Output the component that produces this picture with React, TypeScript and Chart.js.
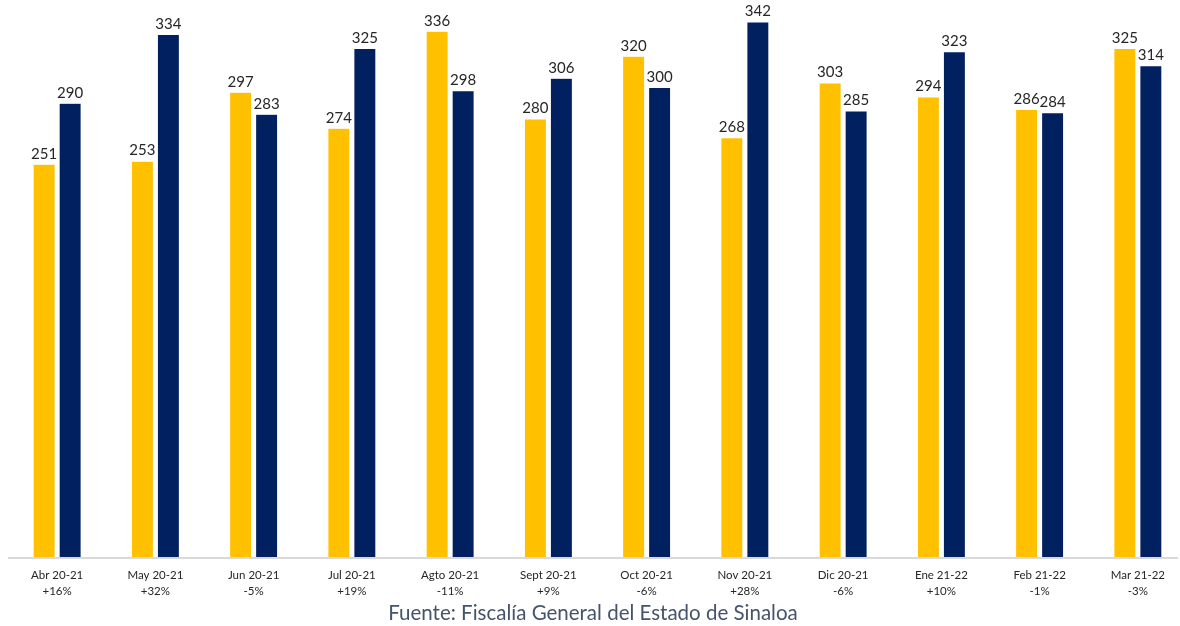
import React, { useEffect, useRef } from "react";
import { Chart, registerables } from "chart.js";

Chart.register(...registerables);

const months = ["Abr 20-21", "May 20-21", "Jun 20-21", "Jul 20-21", "Agto 20-21", "Sept 20-21", "Oct 20-21", "Nov 20-21", "Dic 20-21", "Ene 21-22", "Feb 21-22", "Mar 21-22"];
const changes = ["+16%", "+32%", "-5%", "+19%", "-11%", "+9%", "-6%", "+28%", "-6%", "+10%", "-1%", "-3%"];
const seriesA = [251, 253, 297, 274, 336, 280, 320, 268, 303, 294, 286, 325];
const seriesB = [290, 334, 283, 325, 298, 306, 300, 342, 285, 323, 284, 314];
const source = "Fuente: Fiscalía General del Estado de Sinaloa";

const FONT = "Lato, 'Open Sans', sans-serif";

const labelPlugin = {
  id: "labels",
  afterDatasetsDraw(chart: any) {
    const ctx = chart.ctx;
    ctx.save();
    ctx.font = `15px ${FONT}`;
    ctx.fillStyle = "#262626";
    ctx.textAlign = "center";
    ctx.textBaseline = "bottom";
    chart.data.datasets.forEach((ds: any, i: number) => {
      const meta = chart.getDatasetMeta(i);
      meta.data.forEach((bar: any, j: number) => {
        ctx.fillText(String(ds.data[j]), bar.x, bar.y - 3);
      });
    });
    ctx.restore();
  },
  afterDraw(chart: any) {
    const ctx = chart.ctx;
    const a = chart.chartArea;
    ctx.save();
    ctx.strokeStyle = "#d9d9d9";
    ctx.lineWidth = 2;
    ctx.beginPath();
    ctx.moveTo(a.left, a.bottom + 1);
    ctx.lineTo(1178, a.bottom + 1);
    ctx.stroke();
    ctx.font = `20.5px ${FONT}`;
    ctx.fillStyle = "#44546a";
    ctx.textAlign = "center";
    ctx.textBaseline = "middle";
    ctx.fillText(source, 593, 613);
    ctx.restore();
  },
};

export default function App() {
  const ref = useRef<HTMLCanvasElement>(null);
  useEffect(() => {
    if (!ref.current) return;
    const chart = new Chart(ref.current, {
      type: "bar",
      data: {
        labels: months.map((m, i) => [m, changes[i]]),
        datasets: [
          { data: seriesA, backgroundColor: "#FFC000", borderColor: "rgba(255,255,255,0.6)", borderWidth: 0.5 },
          { data: seriesB, backgroundColor: "#002060", borderColor: "rgba(255,255,255,0.6)", borderWidth: 0.5 },
        ],
      },
      plugins: [labelPlugin],
      options: {
        animation: false,
        responsive: false,
        maintainAspectRatio: false,
        layout: { padding: { left: 8, right: 2, top: 0, bottom: 0 } },
        datasets: { bar: { categoryPercentage: 0.529, barPercentage: 0.846 } },
        plugins: { legend: { display: false }, tooltip: { enabled: false }, title: { display: false } },
        scales: {
          x: {
            grid: { display: false, drawTicks: false },
            border: { display: false },
            ticks: { color: "#262626", font: { family: FONT, size: 11.5, lineHeight: 1.4 }, padding: 10, maxRotation: 0, autoSkip: false },
            afterFit: (s: any) => { s.height = 69; },
          },
          y: { display: false, min: 0, max: 356 },
        },
      },
    });
    return () => chart.destroy();
  }, []);
  return (
    <div style={{ position: "fixed", left: 0, top: 0, width: 1180, height: 626, overflow: "hidden", background: "#fff" }}>
      <canvas ref={ref} width={1189} height={626} style={{ width: 1189, height: 626 }} />
    </div>
  );
}
